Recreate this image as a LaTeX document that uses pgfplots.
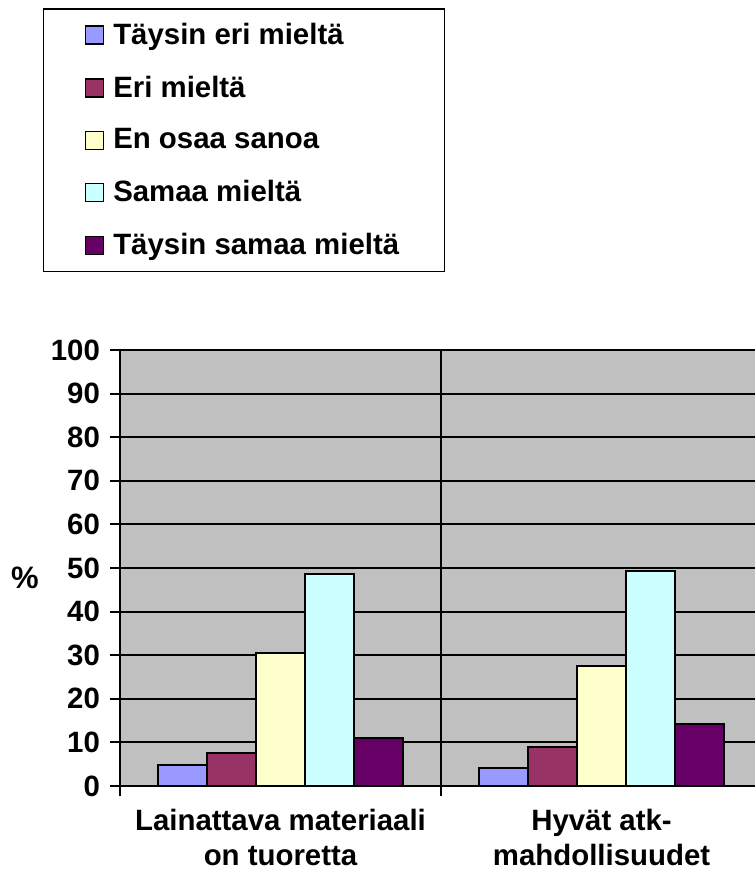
\documentclass[border=0pt]{standalone}
\usepackage{fontspec}
\setmainfont{Liberation Sans}
\usepackage{pgfplots}
\pgfplotsset{compat=1.18}
\definecolor{c1}{HTML}{9999FF}
\definecolor{c2}{HTML}{993366}
\definecolor{c3}{HTML}{FFFFCC}
\definecolor{c4}{HTML}{CCFFFF}
\definecolor{c5}{HTML}{660066}
\definecolor{plotbg}{HTML}{C0C0C0}
\newcommand{\lbl}{\fontsize{14.7}{17.5}\selectfont\bfseries}

\begin{document}
\begin{tikzpicture}
\begin{axis}[
    name=ax,
    scale only axis,
    width=317.5pt,
    height=218pt,
    ybar=0pt,
    bar width=0.1526,
    xmin=-0.5, xmax=1.478,
    ymin=0, ymax=100,
    axis background/.style={fill=plotbg},
    axis x line*=bottom,
    axis y line*=left,
    axis line style={-, line width=1pt, black},
    xtick={0,1},
    xticklabels={{Lainattava materiaali\\on tuoretta},{Hyvät atk-\\mahdollisuudet}},
    xticklabel style={align=center, font=\lbl, yshift=-3pt},
    major x tick style={draw=none},
    minor xtick={-0.5,0.5,1.5},
    minor x tick style={line width=1pt, black},
    minor tick length=5pt,
    xminorgrids=true,
    minor x grid style={line width=1pt, black},
    ytick={0,10,...,90},
    extra y ticks={100},
    extra y tick style={grid style={line width=1pt, gray}},
    ymajorgrids=true,
    y grid style={line width=1pt, black},
    ytick style={line width=1pt, black},
    major tick length=5pt,
    tick align=outside,
    yticklabel style={font=\lbl, xshift=-1.5pt},
    /pgf/number format/assume math mode=true,
    ylabel={\%},
    every axis y label/.style={at={(axis description cs:-0.1496,0.477)}, anchor=center,
        font=\fontsize{15.5}{18}\selectfont\bfseries},
    legend style={at={(-0.1213,1.784)}, anchor=north west, draw=black, line width=0.7pt,
        fill=white, font=\lbl, inner xsep=20.5pt, inner ysep=5pt, row sep=10.3pt,
        cells={anchor=west}},
    legend image code/.code={\draw[#1, line width=0.6pt] (0pt,-4.5pt) rectangle (9pt,4.5pt);
        \path (11.5pt,0pt);},
    legend cell align=left,
]
\addplot[fill=c1, draw=black, line width=1pt] coordinates {(0,4.8) (1,4.2)};
\addplot[fill=c2, draw=black, line width=1pt] coordinates {(0,7.6) (1,8.9)};
\addplot[fill=c3, draw=black, line width=1pt] coordinates {(0,30.6) (1,27.6)};
\addplot[fill=c4, draw=black, line width=1pt] coordinates {(0,48.6) (1,49.2)};
\addplot[fill=c5, draw=black, line width=1pt] coordinates {(0,10.9) (1,14.3)};
\legend{Täysin eri mieltä, Eri mieltä, En osaa sanoa, Samaa mieltä, Täysin samaa mieltä}
\end{axis}
\pgfresetboundingbox
\path[use as bounding box] ([shift={(-60pt,-46.5pt)}]ax.south west) rectangle ([shift={(0pt,175pt)}]ax.north east);
\end{tikzpicture}
\end{document}
